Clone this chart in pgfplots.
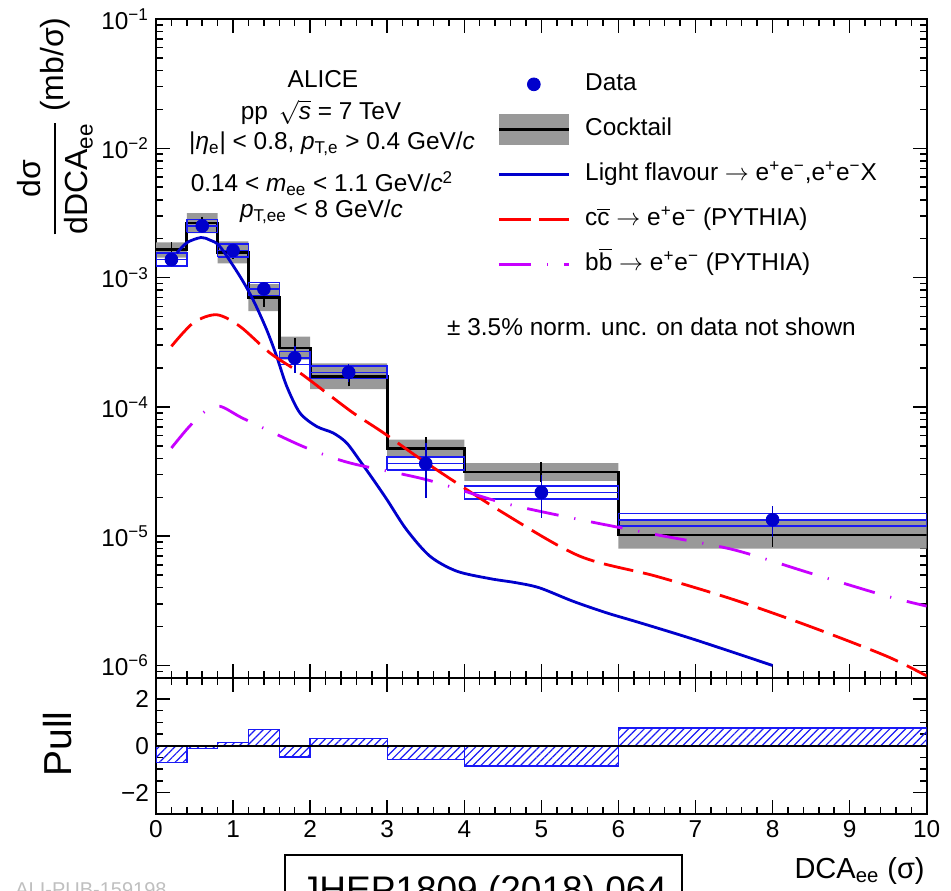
\documentclass[border=0pt]{standalone}
\usepackage{fontspec}
\setmainfont{Liberation Sans}
\usepackage{pgfplots}
\pgfplotsset{compat=1.18}
\usetikzlibrary{patterns.meta}
\definecolor{dblue}{RGB}{0,0,204}
\definecolor{bxblue}{RGB}{25,25,245}
\definecolor{cgray}{RGB}{153,153,153}
\definecolor{bmag}{RGB}{200,0,255}
\definecolor{rred}{RGB}{255,0,0}
\newcommand{\tsup}[1]{\textsuperscript{#1}}
\newcommand{\tsub}[1]{\textsubscript{#1}}
\newcommand{\mi}{\textminus}
\begin{document}
\begin{tikzpicture}
\useasboundingbox (0pt,0pt) rectangle (475.5pt,445pt);
\pgfplotsset{
 every axis/.append style={
  scale only axis, width=385.35pt, xmin=0, xmax=10,
  axis line style={line width=1pt},
  tick style={black, line width=0.75pt},
  major tick length=7pt, minor tick length=3.5pt,
  tick align=inside,
  xtick={0,1,...,10}, minor x tick num=4,
  /pgf/number format/assume math mode=true,
  tick label style={font=\fontsize{12.2}{14}\selectfont},
 }
}
\begin{axis}[at={(78pt,106pt)}, anchor=south west, height=329.5pt,
 ymode=log, ymin=8e-7, ymax=0.1, xticklabels={},
 ytick={1e-6,1e-5,1e-4,1e-3,1e-2,1e-1},
 yticklabels={10\tsup{\mi6},10\tsup{\mi5},10\tsup{\mi4},10\tsup{\mi3},10\tsup{\mi2},10\tsup{\mi1}},
 minor ytick={8e-7,9e-7,2e-6,3e-6,4e-6,5e-6,6e-6,7e-6,8e-6,9e-6,2e-5,3e-5,4e-5,5e-5,6e-5,7e-5,8e-5,9e-5,2e-4,3e-4,4e-4,5e-4,6e-4,7e-4,8e-4,9e-4,2e-3,3e-3,4e-3,5e-3,6e-3,7e-3,8e-3,9e-3,2e-2,3e-2,4e-2,5e-2,6e-2,7e-2,8e-2,9e-2},
 legend style={draw=none, fill=none, at={(0.4425,0.925)}, anchor=north west,
   inner sep=0pt, row sep=7pt, column sep=7.5pt,
   font=\fontsize{12.2}{14}\selectfont,
   nodes={inner sep=0pt, text height=9pt, text depth=3pt}},
 legend cell align=left,
]
% cocktail uncertainty band
\addplot[fill=cgray, draw=none, forget plot] coordinates {
(0,1.87e-3)(0.4,1.87e-3)(0.4,3.15e-3)(0.8,3.15e-3)(0.8,1.91e-3)(1.2,1.91e-3)(1.2,8.9e-4)(1.6,8.9e-4)(1.6,3.5e-4)(2,3.5e-4)(2,2.17e-4)(3,2.17e-4)(3,5.58e-5)(4,5.58e-5)(4,3.68e-5)(6,3.68e-5)(6,1.34e-5)(10,1.34e-5)
(10,8.0e-6)(6,8.0e-6)(6,2.68e-5)(4,2.68e-5)(4,4.04e-5)(3,4.04e-5)(3,1.37e-4)(2,1.37e-4)(2,2.32e-4)(1.6,2.32e-4)(1.6,5.5e-4)(1.2,5.5e-4)(1.2,1.29e-3)(0.8,1.29e-3)(0.8,2.21e-3)(0.4,2.21e-3)(0.4,1.43e-3)(0,1.43e-3)} -- cycle;
% cocktail
\addplot[const plot, black, line width=1.4pt, forget plot] coordinates {
(0,1.64e-3)(0.4,2.64e-3)(0.8,1.57e-3)(1.2,7.0e-4)(1.6,2.85e-4)(2,1.72e-4)(3,4.75e-5)(4,3.14e-5)(6,1.02e-5)(10,1.02e-5)};
\addplot[draw=none, mark=none, forget plot, error bars/.cd, y dir=both, y explicit, error mark=-,
  error mark options={black, mark size=2pt, line width=0.9pt}, error bar style={black, line width=0.9pt}] coordinates {
(0.2,1.64e-3) +- (0,1.0e-4)
(0.6,2.64e-3) +- (0,1.2e-4)
(1.0,1.57e-3) +- (0,0.8e-4)
(1.4,7.0e-4) +- (0,0.6e-4)
(1.8,2.85e-4) +- (0,0.34e-4)
(2.5,1.72e-4) +- (0,0.17e-4)
(3.5,4.75e-5) +- (0,0.66e-5)
(5,3.14e-5) +- (0,0.32e-5)
(8,1.02e-5) +- (0,0.127e-5)};
% data systematic boxes
\addplot[bxblue, line width=0.75pt, unbounded coords=jump, forget plot] coordinates {
(0,1.232e-3)(0.4,1.232e-3)(0.4,1.546e-3)(0,1.546e-3)(0,1.232e-3)(0,nan)(0,1.38e-3)(0.4,1.38e-3)(0.4,nan)
(0.4,2.241e-3)(0.8,2.241e-3)(0.8,2.811e-3)(0.4,2.811e-3)(0.4,2.241e-3)(0.4,nan)(0.4,2.51e-3)(0.8,2.51e-3)(0.8,nan)
(0.8,1.447e-3)(1.2,1.447e-3)(1.2,1.814e-3)(0.8,1.814e-3)(0.8,1.447e-3)(0.8,nan)(0.8,1.62e-3)(1.2,1.62e-3)(1.2,nan)
(1.2,7.30e-4)(1.6,7.30e-4)(1.6,9.16e-4)(1.2,9.16e-4)(1.2,7.30e-4)(1.2,nan)(1.2,8.18e-4)(1.6,8.18e-4)(1.6,nan)
(1.6,2.134e-4)(2,2.134e-4)(2,2.677e-4)(1.6,2.677e-4)(1.6,2.134e-4)(1.6,nan)(1.6,2.39e-4)(2,2.39e-4)(2,nan)
(2,1.652e-4)(3,1.652e-4)(3,2.072e-4)(2,2.072e-4)(2,1.652e-4)(2,nan)(2,1.85e-4)(3,1.85e-4)(3,nan)
(3,3.25e-5)(4,3.25e-5)(4,4.08e-5)(3,4.08e-5)(3,3.25e-5)(3,nan)(3,3.64e-5)(4,3.64e-5)(4,nan)
(4,1.947e-5)(6,1.947e-5)(6,2.442e-5)(4,2.442e-5)(4,1.947e-5)(4,nan)(4,2.18e-5)(6,2.18e-5)(6,nan)
(6,1.197e-5)(10,1.197e-5)(10,1.501e-5)(6,1.501e-5)(6,1.197e-5)(6,nan)(6,1.34e-5)(10,1.34e-5)};
% light flavour
\addplot[dblue, line width=1.4pt, smooth, forget plot] coordinates {
(0.27,1.549e-3)(0.40,1.862e-3)(0.584,2.042e-3)(0.70,1.950e-3)(0.83,1.738e-3)(1.09,1.021e-3)(1.26,6.73e-4)(1.436,3.95e-4)(1.566,2.455e-4)(1.696,1.445e-4)(1.868,8.97e-5)(2.085,7.06e-5)(2.30,6.28e-5)(2.474,5.26e-5)(2.65,3.80e-5)(2.82,2.735e-5)(3.0,1.905e-5)(3.25,1.125e-5)(3.555,7.0e-6)(3.90,5.37e-6)(4.33,4.70e-6)(4.68,4.36e-6)(4.98,3.98e-6)(5.41,3.14e-6)(5.85,2.55e-6)(6.28,2.14e-6)(6.99,1.585e-6)(8.0,1.0e-6)};
% charm
\addplot[rred, line width=1.4pt, smooth, dash pattern=on 15pt off 5pt, forget plot] coordinates {
(0.2,2.94e-4)(0.485,4.47e-4)(0.787,5.16e-4)(1.09,4.19e-4)(1.48,2.61e-4)(1.87,1.83e-4)(2.215,1.28e-4)(2.56,8.97e-5)(2.95,6.31e-5)(3.51,3.68e-5)(4.51,1.51e-5)(5.50,7.0e-6)(6.49,4.90e-6)(7.49,3.24e-6)(8.48,2.01e-6)(9.48,1.18e-6)(10.0,8.3e-7)};
% beauty
\addplot[bmag, line width=1.4pt, smooth, dash pattern=on 16pt off 8pt on 0.6pt off 8pt, forget plot] coordinates {
(0.2,4.81e-5)(0.42,6.92e-5)(0.636,9.23e-5)(0.83,1.01e-4)(1.1,8.32e-5)(1.436,6.67e-5)(1.955,4.81e-5)(2.52,3.68e-5)(3.51,2.735e-5)(4.51,1.807e-5)(5.50,1.343e-5)(6.49,1.028e-5)(7.49,7.87e-6)(8.48,5.20e-6)(9.48,3.44e-6)(10.0,2.88e-6)};
% data
\addplot[only marks, mark=*, mark size=3.2pt, color=dblue, mark options={fill=dblue, draw=dblue}, forget plot,
  error bars/.cd, y dir=both, y explicit, error mark=none, error bar style={dblue, line width=0.8pt}] coordinates {
(0.2,1.38e-3) +- (0,0.05e-3)
(0.6,2.51e-3) +- (0,0.06e-3)
(1.0,1.62e-3) +- (0,0.04e-3)
(1.4,8.18e-4) +- (0,0.3e-4)
(1.8,2.39e-4) +- (0,0.55e-4)
(2.5,1.85e-4) +- (0,0.3e-4)
(3.5,3.64e-5) +- (0,1.65e-5)
(5,2.18e-5) +- (0,0.8e-5)
(8,1.34e-5) +- (0,0.36e-5)};
% legend
\addlegendimage{legend image code/.code={\path[draw=none,fill=none] (0pt,-7.75pt) rectangle (35pt,7.75pt); \fill[dblue] (17.5pt,0pt) circle (3.2pt);}}
\addlegendentry{Data}
\addlegendimage{legend image code/.code={\fill[cgray, draw=none] (0pt,-7.75pt) rectangle (35pt,7.75pt); \draw[black,line width=1.4pt] (0pt,0pt) -- (35pt,0pt);}}
\addlegendentry{Cocktail}
\addlegendimage{legend image code/.code={\path[draw=none,fill=none] (0pt,-7.75pt) rectangle (35pt,7.75pt); \draw[dblue,line width=1.4pt] (0pt,0pt) -- (35pt,0pt);}}
\addlegendentry{Light flavour $\rightarrow$ e\tsup{+}e\tsup{\mi},e\tsup{+}e\tsup{\mi}X}
\addlegendimage{legend image code/.code={\path[draw=none,fill=none] (0pt,-7.75pt) rectangle (35pt,7.75pt); \draw[rred,line width=1.4pt,dash pattern=on 16pt off 4pt] (0pt,0pt) -- (35pt,0pt);}}
\addlegendentry{c$\overline{\mbox{c}}$ $\rightarrow$ e\tsup{+}e\tsup{\mi} (PYTHIA)}
\addlegendimage{legend image code/.code={\path[draw=none,fill=none] (0pt,-7.75pt) rectangle (35pt,7.75pt); \draw[bmag,line width=1.4pt,dash pattern=on 16pt off 8pt on 0.6pt off 8pt] (0pt,0pt) -- (35pt,0pt);}}
\addlegendentry{b$\overline{\mbox{b}}$ $\rightarrow$ e\tsup{+}e\tsup{\mi} (PYTHIA)}
\end{axis}
\begin{axis}[at={(78pt,38.25pt)}, anchor=south west, height=67.75pt,
 ymin=-2.9, ymax=2.9, ytick={-2,0,2}, yticklabels={\mi2,0,2}, minor y tick num=3]
\addplot[ybar interval, draw=bxblue, line width=0.7pt, pattern={Lines[angle=45,distance=2.8pt,line width=0.6pt]}, pattern color=bxblue] coordinates {
(0,-0.72)(0.4,-0.13)(0.8,0.15)(1.2,0.69)(1.6,-0.48)(2,0.30)(3,-0.58)(4,-0.86)(6,0.76)(10,0.76)};
\addplot[black, line width=1pt] coordinates {(0,0)(10,0)};
\end{axis}
% texts
\begin{scope}[every node/.style={font=\fontsize{12.2}{14}\selectfont, inner sep=0pt, anchor=base}]
\node at (161.5pt,401pt) {ALICE};
\node at (160.5pt,385pt) {pp \,$\sqrt{\mbox{\textit{s}}}$ = 7 TeV};
\node at (166pt,370pt) {|\textit{η}\tsub{e}| < 0.8, \textit{p}\tsub{T,e} > 0.4 GeV/\textit{c}};
\node at (161pt,349pt) {0.14 < \textit{m}\tsub{ee} < 1.1 GeV/\textit{c}\tsup{2}};
\node at (160.75pt,336pt) {\textit{p}\tsub{T,ee} < 8 GeV/\textit{c}};
\node at (325.75pt,277pt) {± 3.5\% norm. unc. on data not shown};
\end{scope}
\node[rotate=90, anchor=east, inner sep=0pt, font=\fontsize{16}{19}\selectfont] at (27.5pt,436.5pt)
  {$\displaystyle{\mbox{dσ}\above 1pt\mbox{dDCA\tsub{ee}}}$ (mb/σ)};
\node[rotate=90, anchor=center, inner sep=0pt, font=\fontsize{19.5}{22}\selectfont] at (29pt,73pt) {Pull};
\node[anchor=base east, inner sep=0pt, font=\fontsize{14.5}{16}\selectfont] at (462.5pt,6pt) {DCA\tsub{ee} (σ)};
\draw[line width=0.6pt] (142.5pt,-30pt) rectangle (341pt,17.5pt);
\node[anchor=base, inner sep=0pt, font=\fontsize{18.5}{20}\selectfont] at (242pt,-6pt) {JHEP1809 (2018) 064};
\node[anchor=base west, inner sep=0pt, text=black!25, font=\fontsize{10}{12}\selectfont] at (7.5pt,-3pt) {ALI-PUB-159198};
\end{tikzpicture}
\end{document}
